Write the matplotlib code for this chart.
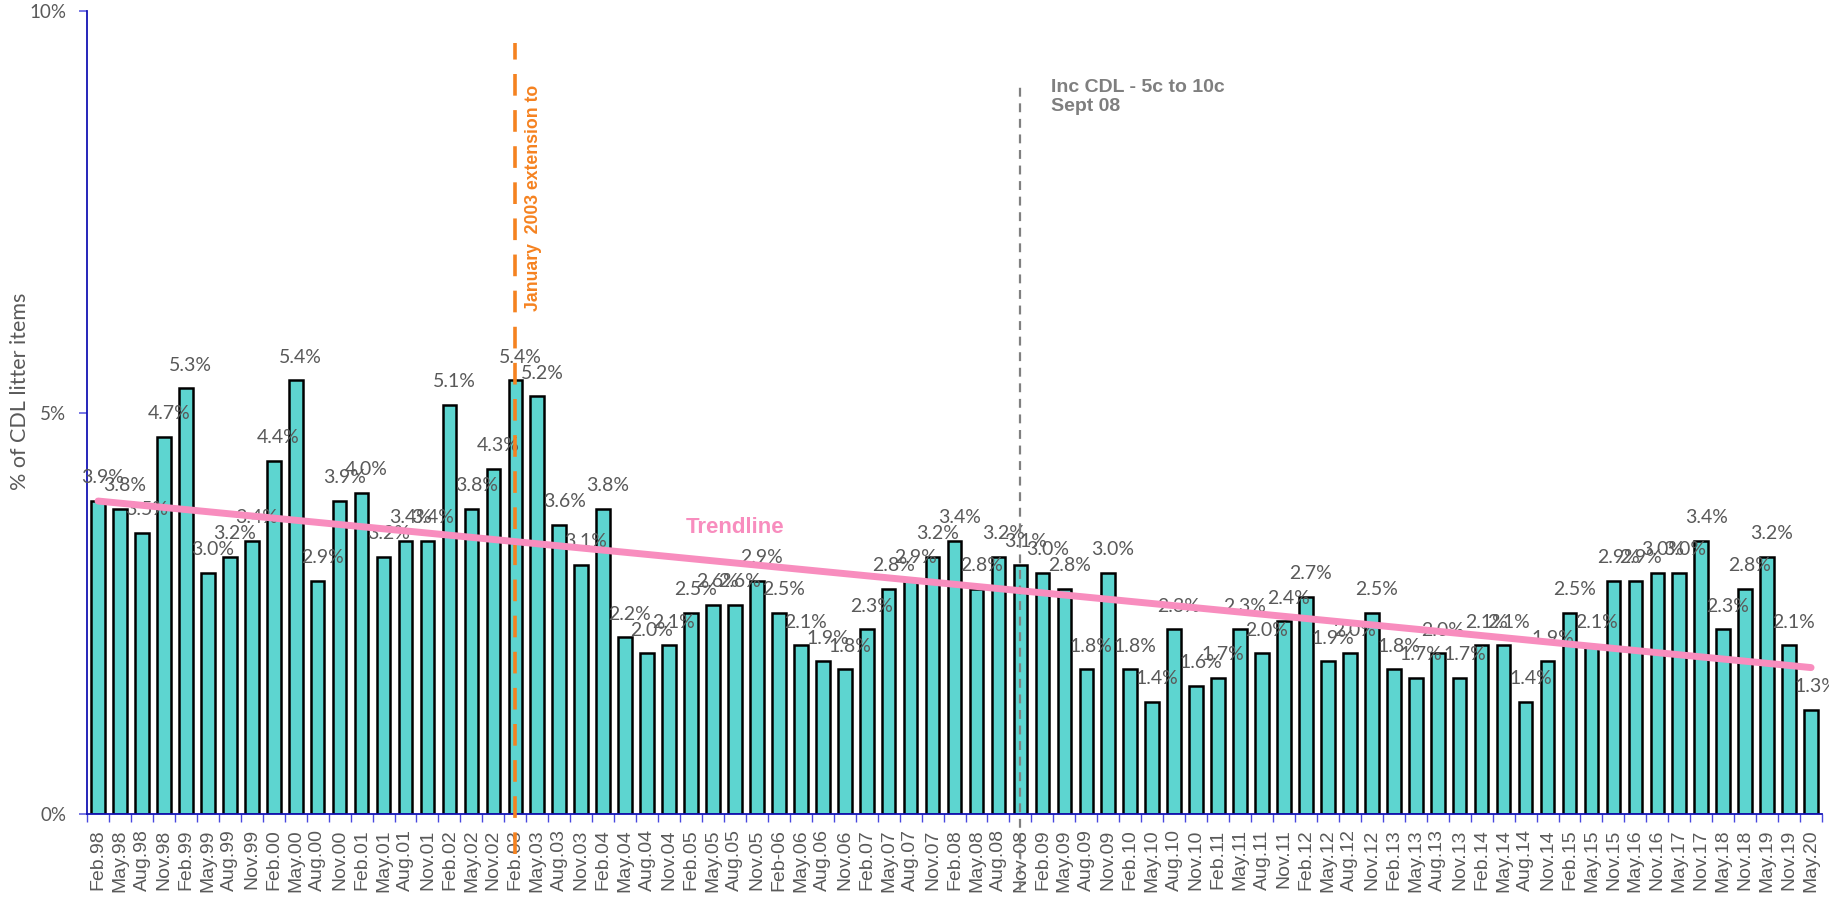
import numpy as np
import matplotlib
matplotlib.use("Agg")
import matplotlib.pyplot as plt

# quarterly surveys (Aug.02 missing, half-yearly from May.15)
periods = ["Feb.98", "May.98", "Aug.98", "Nov.98", "Feb.99", "May.99", "Aug.99", "Nov.99",
           "Feb.00", "May.00", "Aug.00", "Nov.00", "Feb.01", "May.01", "Aug.01", "Nov.01",
           "Feb.02", "May.02", "Nov.02", "Feb.03", "May.03", "Aug.03", "Nov.03", "Feb.04",
           "May.04", "Aug.04", "Nov.04", "Feb.05", "May.05", "Aug.05", "Nov.05", "Feb-06",
           "May.06", "Aug.06", "Nov.06", "Feb.07", "May.07", "Aug.07", "Nov.07", "Feb.08",
           "May.08", "Aug.08", "Nov-08", "Feb.09", "May.09", "Aug.09", "Nov.09", "Feb.10",
           "May.10", "Aug.10", "Nov.10", "Feb.11", "May.11", "Aug.11", "Nov.11", "Feb.12",
           "May.12", "Aug.12", "Nov.12", "Feb.13", "May.13", "Aug.13", "Nov.13", "Feb.14",
           "May.14", "Aug.14", "Nov.14", "Feb.15", "May.15", "Nov.15", "May.16", "Nov.16",
           "May.17", "Nov.17", "May.18", "Nov.18", "May.19", "Nov.19", "May.20"]

cdl_pct = [3.9, 3.8, 3.5, 4.7, 5.3, 3.0, 3.2, 3.4,
           4.4, 5.4, 2.9, 3.9, 4.0, 3.2, 3.4, 3.4,
           5.1, 3.8, 4.3, 5.4, 5.2, 3.6, 3.1, 3.8,
           2.2, 2.0, 2.1, 2.5, 2.6, 2.6, 2.9, 2.5,
           2.1, 1.9, 1.8, 2.3, 2.8, 2.9, 3.2, 3.4,
           2.8, 3.2, 3.1, 3.0, 2.8, 1.8, 3.0, 1.8,
           1.4, 2.3, 1.6, 1.7, 2.3, 2.0, 2.4, 2.7,
           1.9, 2.0, 2.5, 1.8, 1.7, 2.0, 1.7, 2.1,
           2.1, 1.4, 1.9, 2.5, 2.1, 2.9, 2.9, 3.0,
           3.0, 3.4, 2.3, 2.8, 3.2, 2.1, 1.3]

ext_period = "Feb.03"
cdl_period = "Nov-08"

grey = "#595959"
blue = "#1414B4"

fig = plt.figure(figsize=(18.29, 8.97), dpi=100)
ax = fig.add_axes([0.0476, 0.0925, 0.9486, 0.8952])

x = np.arange(len(periods))
y = np.array(cdl_pct)

ax.bar(x, y, width=0.62, color="#5DD5D0", edgecolor="black", linewidth=1.8, zorder=2)

for xi, yi in zip(x, y):
    ax.text(xi + 0.22, yi + 0.29, f"{yi:.1f}%", ha="center", va="center",
            fontsize=14, color=grey, family="Lato", zorder=3)

# linear trendline
k, b = np.polyfit(x, y, 1)
ax.plot(x[[0, -1]], k * x[[0, -1]] + b, color="#F88DBE", lw=5,
        solid_capstyle="round", zorder=5)
ax.text(29, 3.57, "Trendline", color="#F88DBE", fontsize=16, fontweight="bold",
        family="Liberation Sans", ha="center", va="center", zorder=6)

# January 2003 extension
xe = periods.index(ext_period)
ax.plot([xe, xe], [-0.5, 9.6], color="#F58220", lw=2.6, dashes=(6, 4),
        clip_on=False, zorder=4)
ax.text(xe + 0.85, 7.67, "January  2003 extension to", rotation=90, color="#F58220",
        fontsize=12.7, fontweight="bold", family="Liberation Sans",
        ha="center", va="center", zorder=6)

# CDL refund increase
xc = periods.index(cdl_period)
ax.plot([xc, xc], [-0.95, 9.1], color="#808080", lw=1.6, dashes=(4, 3),
        clip_on=False, zorder=4)
ax.text(xc + 1.4, 9.15, "Inc CDL - 5c to 10c\nSept 08", color="#7F7F7F",
        fontsize=14, fontweight="bold", family="Liberation Sans",
        ha="left", va="top", linespacing=1.1, zorder=6)

ax.set_xlim(-0.5, len(periods) - 0.5)
ax.set_ylim(0, 10)

ax.set_xticks(np.arange(-0.5, len(periods), 1))
ax.set_xticklabels([])
ax.set_xticks(x, minor=True)
ax.set_xticklabels(periods, minor=True, rotation=90, fontsize=14, color=grey,
                   family="Liberation Sans")
ax.tick_params(axis="x", which="major", length=6, color="#4848E0", width=1)
ax.tick_params(axis="x", which="minor", length=0, pad=11)

ax.set_yticks([0, 5, 10])
ax.set_yticklabels(["0%", "5%", "10%"], fontsize=13.5, color=grey, family="Lato")
ax.tick_params(axis="y", length=6, color="#6060E0", width=1.2, pad=9)

ax.set_ylabel("% of CDL litter items", fontsize=15.5, color=grey, family="Lato")
ax.yaxis.set_label_coords(-0.033, 0.527)

for s in ["top", "right"]:
    ax.spines[s].set_visible(False)
for s in ["left", "bottom"]:
    ax.spines[s].set_color(blue)
    ax.spines[s].set_linewidth(1.3)

fig.savefig("out.png", dpi=100)
